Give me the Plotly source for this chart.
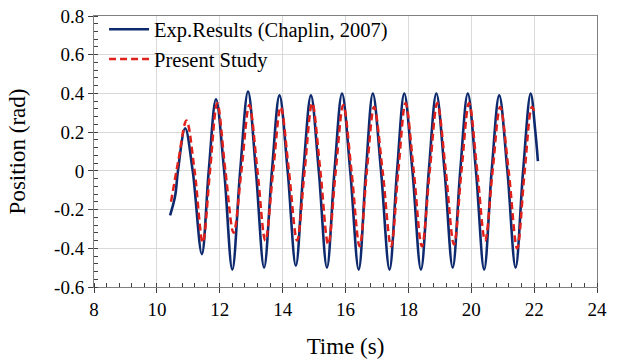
import plotly.graph_objects as go

exp_t = [10.42, 10.58, 10.67, 10.90, 11.14, 11.43, 11.65, 11.88, 12.14, 12.40, 12.65, 12.90,
         13.15, 13.41, 13.66, 13.90, 14.16, 14.42, 14.66, 14.90, 15.15, 15.41, 15.65, 15.89,
         16.15, 16.42, 16.65, 16.87, 17.13, 17.40, 17.64, 17.87, 18.13, 18.40, 18.65, 18.89,
         19.15, 19.41, 19.65, 19.89, 20.15, 20.41, 20.65, 20.89, 21.15, 21.41, 21.65, 21.89,
         22.04, 22.12]
exp_y = [-0.23, -0.13, 0.00, 0.22, 0.00, -0.43, 0.00, 0.37, 0.00, -0.51, 0.00, 0.41,
         0.00, -0.50, 0.00, 0.39, 0.00, -0.49, 0.00, 0.39, 0.00, -0.50, 0.00, 0.40,
         0.00, -0.51, 0.00, 0.40, 0.00, -0.51, 0.00, 0.40, 0.00, -0.51, 0.00, 0.40,
         0.00, -0.50, 0.00, 0.40, 0.00, -0.51, 0.00, 0.39, 0.00, -0.50, 0.00, 0.40,
         0.20, 0.05]

# Present study - key points
sim_t = [10.45, 10.68, 10.94, 11.20, 11.46, 11.69, 11.92, 12.18, 12.44, 12.69, 12.94,
         13.20, 13.45, 13.70, 13.94, 14.20, 14.46, 14.70, 14.94, 15.20, 15.45, 15.69, 15.93,
         16.19, 16.45, 16.68, 16.91, 17.18, 17.45, 17.68, 17.91, 18.17, 18.43, 18.68, 18.92,
         19.19, 19.45, 19.69, 19.93, 20.19, 20.44, 20.68, 20.92, 21.19, 21.46, 21.70, 21.93,
         22.02]
sim_y = [-0.16, 0.05, 0.26, 0.00, -0.37, 0.00, 0.35, 0.00, -0.32, 0.00, 0.34,
         0.00, -0.36, 0.00, 0.33, 0.00, -0.36, 0.00, 0.35, 0.00, -0.38, 0.00, 0.34,
         0.00, -0.39, 0.00, 0.33, 0.00, -0.39, 0.00, 0.35, 0.00, -0.39, 0.00, 0.35,
         0.00, -0.38, 0.00, 0.35, 0.00, -0.36, 0.00, 0.33, 0.00, -0.40, 0.00, 0.33,
         0.30]

x_ticks = [8, 10, 12, 14, 16, 18, 20, 22, 24]
x_tick_text = ["8", "10", "12", "14", "16", "18", "20", "22", "24"]
y_ticks = [-0.6, -0.4, -0.2, 0, 0.2, 0.4, 0.6, 0.8]
y_tick_text = ["-0.6", "-0.4", "-0.2", "0", "0.2", "0.4", "0.6", "0.8"]

FONT = "Liberation Serif"
TICKFONT = dict(family=FONT, size=19, color="black")

fig = go.Figure()
fig.add_trace(go.Scatter(
    x=exp_t, y=exp_y, mode="lines", name="Exp.Results (Chaplin, 2007)",
    line=dict(color="#0e2a6e", width=2.6, shape="spline", smoothing=1.0),
    legendgroup="a"))
fig.add_trace(go.Scatter(
    x=sim_t, y=sim_y, mode="lines", name="Present Study",
    line=dict(color="#e0201b", width=2.5, dash="7px,4px", shape="spline", smoothing=1.0),
    legendgroup="b"))

fig.update_layout(
    width=619, height=361,
    margin=dict(l=94, r=22, t=16, b=74, autoexpand=False),
    plot_bgcolor="white", paper_bgcolor="white",
    font=dict(family=FONT, size=19, color="black"),
    showlegend=True,
    legend=dict(x=0.02, y=1.024, xanchor="left", yanchor="top",
                bgcolor="rgba(255,255,255,0)", tracegroupgap=0, itemwidth=40,
                font=dict(family=FONT, size=20.5, color="black")),
    xaxis=dict(
        range=[8, 24], tickmode="array", tickvals=x_ticks, ticktext=x_tick_text,
        tickfont=TICKFONT, automargin=False,
        showline=True, mirror=True, linecolor="#7f7f7f", linewidth=1,
        showgrid=True, gridcolor="#d9d9d9", gridwidth=1, zeroline=False,
        ticks="outside", ticklen=5, tickcolor="#404040",
        minor=dict(dtick=0.4, ticks="inside", ticklen=4, tickcolor="#404040", showgrid=False),
        title=dict(text="Time (s)", font=dict(family=FONT, size=23, color="black"), standoff=19),
    ),
    yaxis=dict(
        range=[-0.6, 0.8], tickmode="array", tickvals=y_ticks, ticktext=y_tick_text,
        tickfont=TICKFONT, automargin=False,
        showline=True, mirror=True, linecolor="#7f7f7f", linewidth=1,
        showgrid=True, gridcolor="#d9d9d9", gridwidth=1, zeroline=False,
        ticks="outside", ticklen=5, tickcolor="#404040",
        minor=dict(dtick=0.04, ticks="inside", ticklen=4, tickcolor="#404040", showgrid=False),
        title=dict(text="Position (rad)", font=dict(family=FONT, size=23, color="black"), standoff=22),
    ),
)

fig.write_html("out.html")
